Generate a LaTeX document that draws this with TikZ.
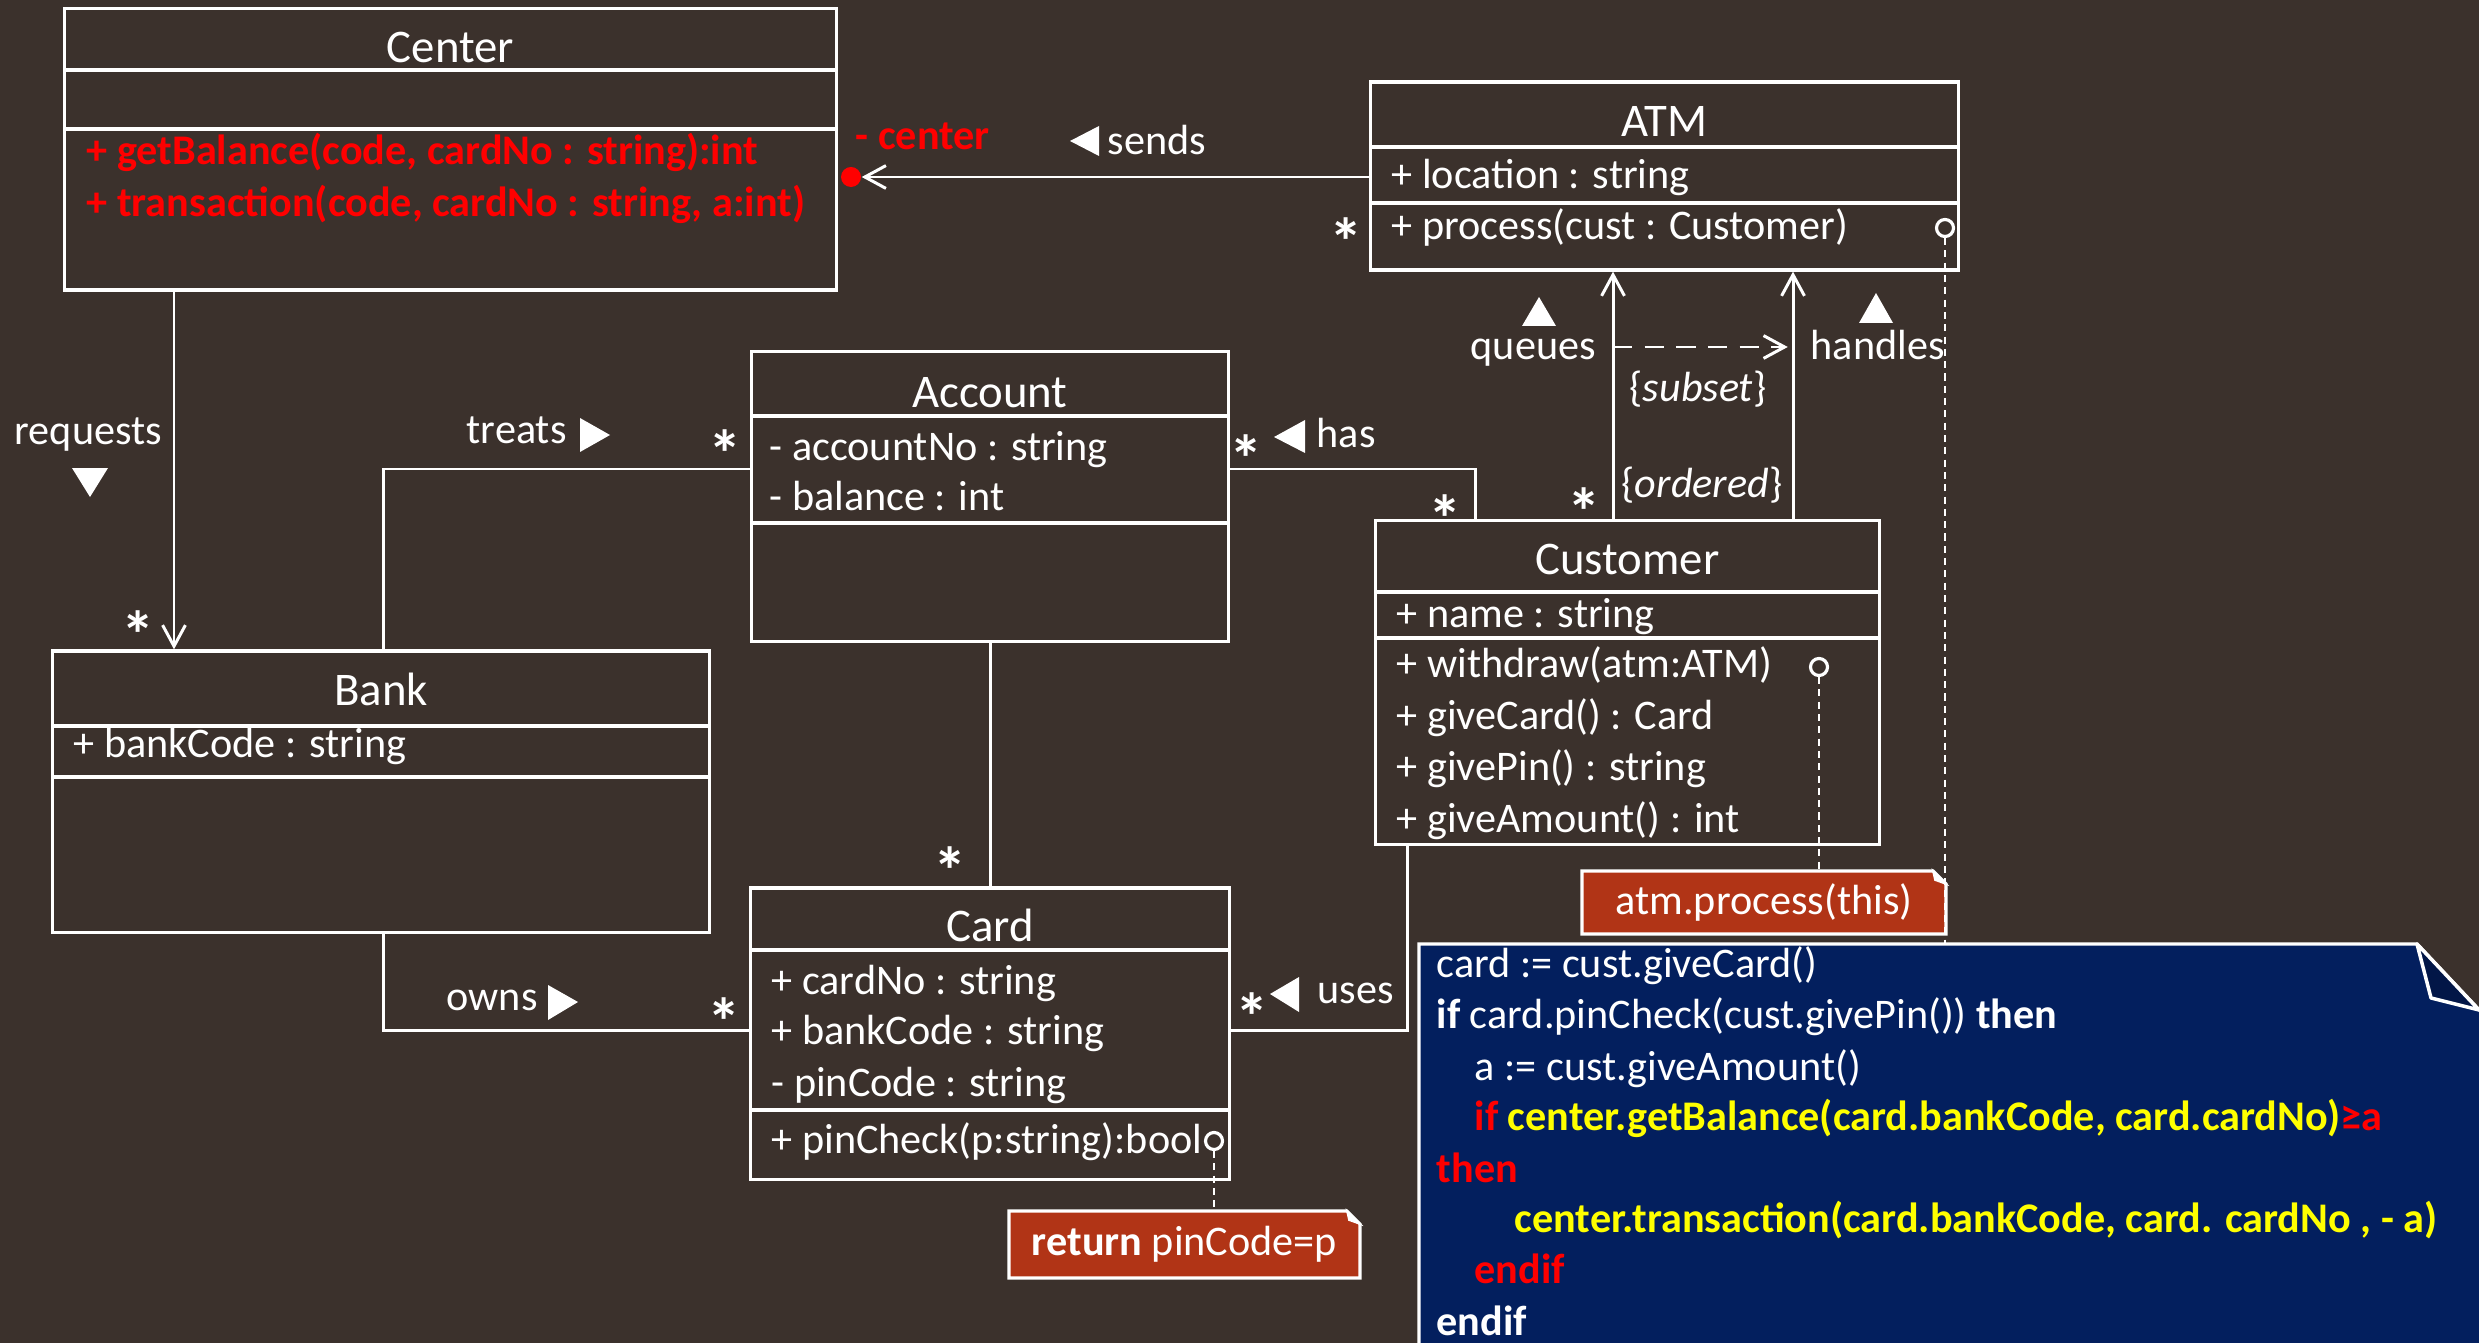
\documentclass[tikz,border=0pt]{standalone}
\usepackage{fontspec}
\setmainfont{Carlito}
\usetikzlibrary{arrows.meta}

\definecolor{bg}{HTML}{3B312C}
\definecolor{rust}{HTML}{B13416}
\definecolor{navy}{HTML}{031F5E}
\definecolor{navydark}{HTML}{021647}
\definecolor{hotred}{HTML}{FF0000}
\definecolor{codeyellow}{HTML}{FFFF00}

\tikzset{
  clsbox/.style={draw=white, line width=0.9pt, fill=bg, rectangle, inner sep=0pt},
  sepline/.style={white, line width=1.2pt},
  clstitle/.style={font=\fontsize{13.3}{16}\selectfont, text=white, anchor=base, inner sep=0pt},
  member/.style={font=\fontsize{12}{14.5}\selectfont, text=white, anchor=base west, inner sep=0pt},
  redmember/.style={member, text=hotred, font=\fontsize{12}{14.5}\selectfont\bfseries},
  lbl/.style={font=\fontsize{12}{14.5}\selectfont, text=white, anchor=base west, inner sep=0pt},
  mult/.style={font=\fontsize{19}{20}\selectfont\bfseries, text=white, anchor=base, inner sep=0pt},
  assoc/.style={white, line width=0.85pt},
  nav/.style={assoc, -{Straight Barb[length=6pt,width=6.5pt,line width=0.85pt]}},
  subsetlink/.style={nav, dash pattern=on 5.5pt off 3.5pt},
  dirmark/.style={fill=white},
  portcircle/.style={circle, draw=white, fill=bg, line width=0.9pt, minimum size=0.17cm, inner sep=0pt},
  notelink/.style={white, line width=0.4pt, dash pattern=on 2pt off 1.5pt},
  rustnote/.style={fill=rust, draw=white, line width=0.9pt},
  notetext/.style={font=\fontsize{12}{14.5}\selectfont, text=white, inner sep=0pt},
  codeline/.style={font=\fontsize{12}{14.5}\selectfont, text=white, anchor=base west, inner sep=0pt},
}

\begin{document}
\begin{tikzpicture}[x=0.01cm, y=-0.01cm]
  % canvas
  \fill[bg] (0,0) rectangle (2479,1343);
  \useasboundingbox (0,0) rectangle (2479,1343);

  % ---------------- classes ----------------
  % Center
  \node[clsbox, minimum width=7.71cm, minimum height=2.81cm] (center) at (450.5,149.5) {};
  \draw[sepline] (65,70) -- (836,70);
  \draw[sepline] (65,129) -- (836,129);
  \node[clstitle] (centerT) at (450.5,63) {Center};
  \node[redmember] (centerM1) at (86,165) {+ getBalance(code, cardNo : string):int};
  \node[redmember] (centerM2) at (86,217) {+ transaction(code, cardNo : string, a:int)};

  % ATM
  \node[clsbox, minimum width=5.87cm, minimum height=1.88cm] (atm) at (1664.5,176) {};
  \draw[sepline] (1371,147) -- (1958,147);
  \draw[sepline] (1371,203) -- (1958,203);
  \node[clstitle] (atmT) at (1664.5,137) {ATM};
  \node[member] (atmA1) at (1391,189) {+ location : string};
  \node[member] (atmM1) at (1391,240) {+ process(cust : Customer)};

  % Account
  \node[clsbox, minimum width=4.76cm, minimum height=2.89cm] (account) at (990,496.5) {};
  \draw[sepline] (752,416) -- (1228,416);
  \draw[sepline] (752,523) -- (1228,523);
  \node[clstitle] (accountT) at (990,407) {Account};
  \node[member] (accountA1) at (769,460) {- accountNo : string};
  \node[member] (accountA2) at (769,510) {- balance : int};

  % Bank
  \node[clsbox, minimum width=6.56cm, minimum height=2.81cm] (bank) at (381,791.5) {};
  \draw[sepline] (53,726) -- (709,726);
  \draw[sepline] (53,777) -- (709,777);
  \node[clstitle] (bankT) at (381,705) {Bank};
  \node[member] (bankA1) at (73,757) {+ bankCode : string};

  % Card
  \node[clsbox, minimum width=4.78cm, minimum height=2.91cm] (card) at (990,1033.5) {};
  \draw[sepline] (751,950) -- (1229,950);
  \draw[sepline] (751,1110) -- (1229,1110);
  \node[clstitle] (cardT) at (990,941) {Card};
  \node[member] (cardA1) at (771,994) {+ cardNo : string};
  \node[member] (cardA2) at (771,1044) {+ bankCode : string};
  \node[member] (cardA3) at (771,1096) {- pinCode : string};
  \node[member] (cardM1) at (771,1153) {+ pinCheck(p:string):bool};

  % Customer
  \node[clsbox, minimum width=5.03cm, minimum height=3.23cm] (customer) at (1627.5,682.5) {};
  \draw[sepline] (1376,592) -- (1879,592);
  \draw[sepline] (1376,638) -- (1879,638);
  \node[clstitle] (customerT) at (1627.5,574) {Customer};
  \node[member] (custA1) at (1396,627) {+ name : string};
  \node[member] (custM1) at (1396,677) {+ withdraw(atm:ATM)};
  \node[member] (custM2) at (1396,729) {+ giveCard() : Card};
  \node[member] (custM3) at (1396,780) {+ givePin() : string};
  \node[member] (custM4) at (1396,832) {+ giveAmount() : int};

  % ---------------- associations ----------------
  % Center requests Bank
  \coordinate (reqx) at (174,0);
  \draw[nav] (center.south -| reqx) -- (bank.north -| reqx);
  \node[lbl] (reqL) at (14,445) {requests};
  \fill[dirmark] (72,468) -- (108,468) -- (90,497) -- cycle;
  \node[mult] (reqM) at (138,658) {*};

  % Bank treats Account
  \coordinate (trk) at (383,469);
  \draw[assoc] (account.west |- trk) -- (trk) -- (bank.north -| trk);
  \node[lbl] (treatsL) at (466,443) {treats};
  \fill[dirmark] (580,418) -- (610,435) -- (580,452) -- cycle;
  \node[mult] (treatsM) at (725,478) {*};

  % Customer has Account
  \coordinate (hask) at (1475,469);
  \draw[assoc] (account.east |- hask) -- (hask) -- (customer.north -| hask);
  \node[mult] (hasM1) at (1246,482) {*};
  \fill[dirmark] (1274,437) -- (1305,420) -- (1305,453) -- cycle;
  \node[lbl] (hasL) at (1316,448) {has};
  \node[mult] (hasM2) at (1445,542) {*};

  % ATM sends to Center
  \node[circle, fill=hotred, minimum size=0.2cm, inner sep=0pt] (cdot) at (851,177) {};
  \coordinate (sndy) at (0,177);
  \draw[nav] (atm.west |- sndy) -- (cdot.east);
  \node[redmember] (centerRole) at (855,150) {- center};
  \fill[dirmark] (1070,141) -- (1099,126) -- (1099,156) -- cycle;
  \node[lbl] (sendsL) at (1107,155) {sends};
  \node[mult] (atmM) at (1346,266) {*};

  % Customer queues / handles ATM
  \coordinate (qx) at (1613,0);
  \coordinate (hx) at (1793,0);
  \draw[nav] (customer.north -| qx) -- (atm.south -| qx);
  \draw[nav] (customer.north -| hx) -- (atm.south -| hx);
  \coordinate (subA) at (1613,347);
  \coordinate (subB) at (1793,347);
  \draw[subsetlink, shorten >=1.5pt] (subA) -- (subB);
  \fill[dirmark] (1522,326) -- (1556,326) -- (1539,297) -- cycle;
  \node[lbl] (queuesL) at (1470,360) {queues};
  \fill[dirmark] (1859,323) -- (1893,323) -- (1876,293) -- cycle;
  \node[lbl] (handlesL) at (1810,360) {handles};
  \node[lbl] (subsetL) at (1629,402) {\{\textit{subset}\}};
  \node[lbl] (orderedL) at (1621,497) {\{\textit{ordered}\}};
  \node[mult] (queuesM) at (1584,535) {*};

  % Account -- Card
  \draw[assoc] (account.south) -- (card.north);
  \node[mult] (acM) at (950,894) {*};

  % Bank owns Card
  \coordinate (owk) at (383,1030);
  \draw[assoc] (bank.south -| owk) -- (owk) -- (card.west |- owk);
  \node[lbl] (ownsL) at (446,1010) {owns};
  \fill[dirmark] (548,985) -- (578,1002) -- (548,1020) -- cycle;
  \node[mult] (ownsM) at (724,1045) {*};

  % Customer uses Card
  \coordinate (usk) at (1407,1030);
  \draw[assoc] (card.east |- usk) -- (usk) -- (customer.south -| usk);
  \node[mult] (usesM) at (1252,1040) {*};
  \fill[dirmark] (1270,994) -- (1299,977) -- (1299,1012) -- cycle;
  \node[lbl] (usesL) at (1317,1003) {uses};

  % ---------------- notes ----------------
  % code note for ATM::process (runs off the page edge)
  \begin{scope}
    \clip (0,0) rectangle (2479,1343);
    \filldraw[fill=navy, draw=white, line width=0.9pt]
      (1419,1400) -- (1419,944) -- (2417,944) -- (2500,1032) -- (2500,1400) -- cycle;
    \filldraw[fill=navydark, draw=white, line width=1pt, line join=round]
      (2417,944) -- (2431,998) -- (2479,1010) -- cycle;
  \end{scope}
  \coordinate (codetop) at (0,944);
  \node[codeline] (code1) at (1436,977) {card := cust.giveCard()};
  \node[codeline] (code2) at (1436,1028) {\textbf{if} card.pinCheck(cust.givePin()) \textbf{then}};
  \node[codeline] (code3) at (1474,1080) {a := cust.giveAmount()};
  \node[codeline, font=\fontsize{12}{14.5}\selectfont\bfseries] (code4) at (1474,1130)
    {\textcolor{hotred}{if} \textcolor{codeyellow}{center.getBalance(card.bankCode, card.cardNo)}\textcolor{hotred}{≥a}};
  \node[codeline, text=hotred, font=\fontsize{12}{14.5}\selectfont\bfseries] (code5) at (1436,1182) {then};
  \node[codeline, text=codeyellow, font=\fontsize{12}{14.5}\selectfont\bfseries] (code6) at (1514,1232)
    {center.transaction(card.bankCode, card. cardNo , - a)};
  \node[codeline, text=hotred, font=\fontsize{12}{14.5}\selectfont\bfseries] (code7) at (1474,1283) {endif};
  \node[codeline, font=\fontsize{12}{14.5}\selectfont\bfseries] (code8) at (1436,1335) {endif};

  % note for Customer::withdraw
  \filldraw[rustnote] (1582,871) -- (1933,871) -- (1946,884) -- (1946,934) -- (1582,934) -- cycle;
  \filldraw[fill=white, draw=white, line width=0.5pt] (1933,871) -- (1946,884) -- (1935,880) -- cycle;
  \node[notetext, minimum width=3.64cm, minimum height=0.63cm] (atmnote) at (1764,902.5) {atm.process(this)};

  % note for Card::pinCheck
  \filldraw[rustnote] (1009,1211) -- (1347,1211) -- (1360,1224) -- (1360,1278) -- (1009,1278) -- cycle;
  \filldraw[fill=white, draw=white, line width=0.5pt] (1347,1211) -- (1360,1224) -- (1349,1220) -- cycle;
  \node[notetext, minimum width=3.51cm, minimum height=0.67cm] (retnote) at (1184.5,1244.5) {\textbf{return} pinCode=p};

  % operation anchors and note links
  \node[portcircle] (pcATM) at (1945,228) {};
  \node[portcircle] (pcCust) at (1819,667) {};
  \node[portcircle] (pcCard) at (1214,1141) {};
  \draw[notelink] (pcATM.south) -- (pcATM |- codetop);
  \draw[notelink] (pcCust.south) -- (atmnote.north -| pcCust);
  \draw[notelink] (pcCard.south) -- (retnote.north -| pcCard);
\end{tikzpicture}
\end{document}
